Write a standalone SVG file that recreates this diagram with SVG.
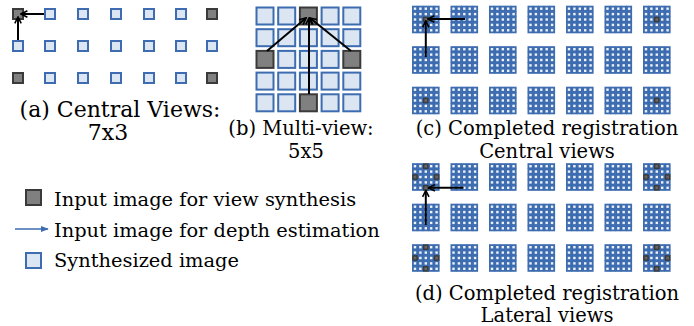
<svg xmlns="http://www.w3.org/2000/svg" xmlns:xlink="http://www.w3.org/1999/xlink" width="694" height="326" viewBox="0 0 694 326">
  <style>
    .syn { fill: #dce6f2; stroke: #3d6cb0; stroke-width: 2; }
    .inp { fill: #808080; stroke: #3a3a3a; stroke-width: 2; }
    .msyn { fill: #eef3fa; stroke: #3d6cb0; stroke-width: 1.8; }
    .minp { fill: #666666; stroke: #3a3a3a; stroke-width: 1.4; }
    .arr { fill: none; stroke: #000000; stroke-width: 2; marker-end: url(#head); }
    .cap { font-family: "DejaVu Serif", "Liberation Serif", serif; font-size: 19.5px; fill: #000000; text-anchor: middle; }
    .capa { font-size: 22px; }
    .leg { font-family: "DejaVu Serif", "Liberation Serif", serif; font-size: 19.4px; fill: #000000; }
  </style>
  <defs>
    <marker id="head" viewBox="0 0 10 10" refX="9" refY="5" markerWidth="4" markerHeight="4" orient="auto" markerUnits="strokeWidth">
      <path d="M1,1 L9,5 L1,9" fill="none" stroke="#000000" stroke-width="2"/>
    </marker>
    <marker id="bluehead" viewBox="0 0 10 10" refX="9" refY="5" markerWidth="5" markerHeight="5" orient="auto" markerUnits="strokeWidth">
      <path d="M0,1 L10,5 L0,9 Z" fill="#3d6cb0"/>
    </marker>
    <!-- 5x5 tile of synthesized views, 27 px wide -->
    <g id="tile">
      <g id="tilerow">
        <rect class="msyn" x="0.6" y="0.6" width="4.2" height="4.2"/>
        <rect class="msyn" x="6.0" y="0.6" width="4.2" height="4.2"/>
        <rect class="msyn" x="11.4" y="0.6" width="4.2" height="4.2"/>
        <rect class="msyn" x="16.8" y="0.6" width="4.2" height="4.2"/>
        <rect class="msyn" x="22.2" y="0.6" width="4.2" height="4.2"/>
      </g>
      <use xlink:href="#tilerow" y="5.4"/>
      <use xlink:href="#tilerow" y="10.8"/>
      <use xlink:href="#tilerow" y="16.2"/>
      <use xlink:href="#tilerow" y="21.6"/>
    </g>
    <!-- one row of seven tiles -->
    <g id="tiles7">
      <use xlink:href="#tile" x="0"/>
      <use xlink:href="#tile" x="38.5"/>
      <use xlink:href="#tile" x="77"/>
      <use xlink:href="#tile" x="115.5"/>
      <use xlink:href="#tile" x="154"/>
      <use xlink:href="#tile" x="192.5"/>
      <use xlink:href="#tile" x="231"/>
    </g>
    <!-- centre input cell of a tile -->
    <rect id="mcenter" class="minp" x="11.4" y="11.4" width="4.2" height="4.2"/>
    <!-- four mid-edge input cells of a tile -->
    <g id="mlateral">
      <rect class="minp" x="11.4" y="0.6" width="4.2" height="4.2"/>
      <rect class="minp" x="0.6" y="11.4" width="4.2" height="4.2"/>
      <rect class="minp" x="22.2" y="11.4" width="4.2" height="4.2"/>
      <rect class="minp" x="11.4" y="22.2" width="4.2" height="4.2"/>
    </g>
  </defs>

  <rect width="694" height="326" fill="#ffffff"/>

  <!-- (a) central views 7x3 -->
  <g id="central-7x3">
    <rect class="inp" x="13" y="9" width="10" height="10"/>
    <rect class="syn" x="45" y="9" width="10" height="10"/>
    <rect class="syn" x="78" y="9" width="10" height="10"/>
    <rect class="syn" x="111" y="9" width="10" height="10"/>
    <rect class="syn" x="144" y="9" width="10" height="10"/>
    <rect class="syn" x="176" y="9" width="10" height="10"/>
    <rect class="inp" x="207" y="9" width="10" height="10"/>
    <rect class="syn" x="13" y="41" width="10" height="10"/>
    <rect class="syn" x="45" y="41" width="10" height="10"/>
    <rect class="syn" x="78" y="41" width="10" height="10"/>
    <rect class="syn" x="111" y="41" width="10" height="10"/>
    <rect class="syn" x="144" y="41" width="10" height="10"/>
    <rect class="syn" x="176" y="41" width="10" height="10"/>
    <rect class="syn" x="207" y="41" width="10" height="10"/>
    <rect class="inp" x="13" y="73" width="10" height="10"/>
    <rect class="syn" x="45" y="73" width="10" height="10"/>
    <rect class="syn" x="78" y="73" width="10" height="10"/>
    <rect class="syn" x="111" y="73" width="10" height="10"/>
    <rect class="syn" x="144" y="73" width="10" height="10"/>
    <rect class="syn" x="176" y="73" width="10" height="10"/>
    <rect class="inp" x="207" y="73" width="10" height="10"/>
    <text class="cap capa" x="120" y="117">(a) Central Views:</text>
    <text class="cap capa" x="108" y="139.5">7x3</text>
  </g>

  <!-- (b) multi-view 5x5 -->
  <g id="multiview-5x5">
    <rect class="syn" x="256.5" y="7.5" width="17" height="17"/>
    <rect class="syn" x="278.2" y="7.5" width="17" height="17"/>
    <rect class="inp" x="299.9" y="7.5" width="17" height="17"/>
    <rect class="syn" x="321.6" y="7.5" width="17" height="17"/>
    <rect class="syn" x="343.3" y="7.5" width="17" height="17"/>
    <rect class="syn" x="256.5" y="29.2" width="17" height="17"/>
    <rect class="syn" x="278.2" y="29.2" width="17" height="17"/>
    <rect class="syn" x="299.9" y="29.2" width="17" height="17"/>
    <rect class="syn" x="321.6" y="29.2" width="17" height="17"/>
    <rect class="syn" x="343.3" y="29.2" width="17" height="17"/>
    <rect class="inp" x="256.5" y="50.9" width="17" height="17"/>
    <rect class="syn" x="278.2" y="50.9" width="17" height="17"/>
    <rect class="syn" x="299.9" y="50.9" width="17" height="17"/>
    <rect class="syn" x="321.6" y="50.9" width="17" height="17"/>
    <rect class="inp" x="343.3" y="50.9" width="17" height="17"/>
    <rect class="syn" x="256.5" y="72.6" width="17" height="17"/>
    <rect class="syn" x="278.2" y="72.6" width="17" height="17"/>
    <rect class="syn" x="299.9" y="72.6" width="17" height="17"/>
    <rect class="syn" x="321.6" y="72.6" width="17" height="17"/>
    <rect class="syn" x="343.3" y="72.6" width="17" height="17"/>
    <rect class="syn" x="256.5" y="94.3" width="17" height="17"/>
    <rect class="syn" x="278.2" y="94.3" width="17" height="17"/>
    <rect class="inp" x="299.9" y="94.3" width="17" height="17"/>
    <rect class="syn" x="321.6" y="94.3" width="17" height="17"/>
    <rect class="syn" x="343.3" y="94.3" width="17" height="17"/>
    <text class="cap" x="301" y="135">(b) Multi-view:</text>
    <text class="cap" x="306" y="158">5x5</text>
  </g>

  <!-- (c) completed registration, central views -->
  <g id="registration-central">
    <use xlink:href="#tiles7" x="412.3" y="6"/>
    <use xlink:href="#tiles7" x="412.3" y="46.5"/>
    <use xlink:href="#tiles7" x="412.3" y="87"/>
    <use xlink:href="#mcenter" x="412.3" y="6"/>
    <use xlink:href="#mcenter" x="643.3" y="6"/>
    <use xlink:href="#mcenter" x="412.3" y="87"/>
    <use xlink:href="#mcenter" x="643.3" y="87"/>
    <text class="cap" x="547" y="135">(c) Completed registration</text>
    <text class="cap" x="547" y="158">Central views</text>
  </g>

  <!-- (d) completed registration, lateral views -->
  <g id="registration-lateral">
    <use xlink:href="#tiles7" x="412.3" y="163.5"/>
    <use xlink:href="#tiles7" x="412.3" y="204"/>
    <use xlink:href="#tiles7" x="412.3" y="244.5"/>
    <use xlink:href="#mlateral" x="412.3" y="163.5"/>
    <use xlink:href="#mlateral" x="643.3" y="163.5"/>
    <use xlink:href="#mlateral" x="412.3" y="244.5"/>
    <use xlink:href="#mlateral" x="643.3" y="244.5"/>
    <text class="cap" x="547" y="300">(d) Completed registration</text>
    <text class="cap" x="547" y="321.5">Lateral views</text>
  </g>

  <!-- depth-estimation connectors -->
  <g id="connectors">
    <path class="arr" d="M44,14 L21,14"/>
    <path class="arr" d="M18,40 L18,17"/>
    <path class="arr" d="M267,51 L306,18"/>
    <path class="arr" d="M351,51 L310,18"/>
    <path class="arr" d="M309,94 L309,18"/>
    <path class="arr" d="M465,19 L428,19"/>
    <path class="arr" d="M425.8,57 L425.8,21"/>
    <path class="arr" d="M463.5,187.8 L428.5,187.8"/>
    <path class="arr" d="M425.8,225 L425.8,190.5"/>
  </g>

  <!-- legend -->
  <g id="legend">
    <rect class="inp" x="26" y="190" width="15" height="15"/>
    <text class="leg" x="54" y="206">Input image for view synthesis</text>
    <path d="M15,229 L48,229" stroke="#3d6cb0" stroke-width="1.6" fill="none" marker-end="url(#bluehead)"/>
    <text class="leg" x="54" y="237">Input image for depth estimation</text>
    <rect class="syn" x="26" y="253" width="15" height="15"/>
    <text class="leg" x="54" y="267">Synthesized image</text>
  </g>
</svg>
